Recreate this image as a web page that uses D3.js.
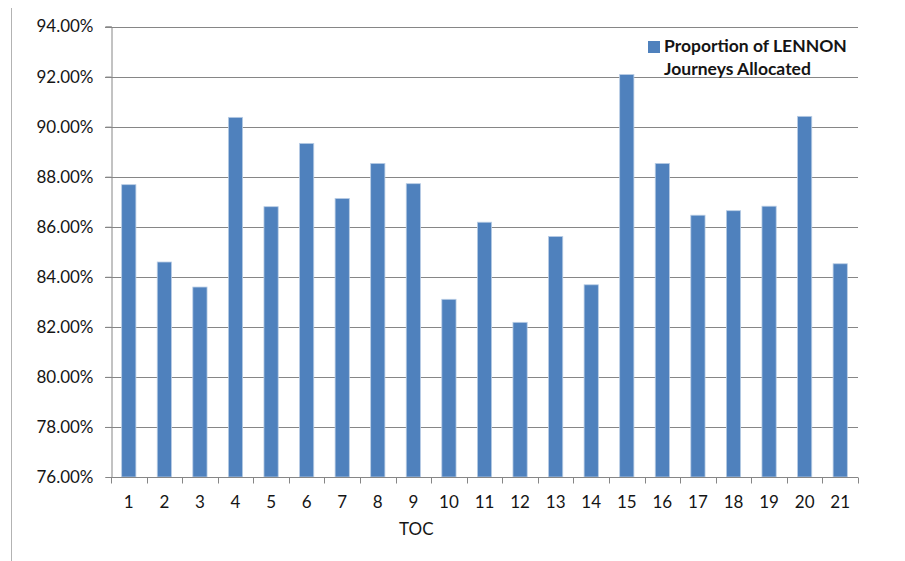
<!DOCTYPE html>
<html>
<head>
<meta charset="utf-8">
<script src="https://cdn.jsdelivr.net/npm/d3@7/dist/d3.min.js"></script>
<style>
  html, body { margin: 0; padding: 0; background: #fff; }
  svg { display: block; font-family: Lato, "Open Sans", sans-serif; }
</style>
</head>
<body>
<svg id="chart" width="905" height="561"></svg>
<script>
// TOC numbers along the category axis
const categories = ["1","2","3","4","5","6","7","8","9","10","11","12","13","14","15","16","17","18","19","20","21"];
// Share of LENNON journeys allocated, per TOC
const allocated = [0.8768, 0.8459, 0.8359, 0.9037, 0.8680, 0.8933, 0.8713, 0.8853, 0.8772, 0.8310,
                   0.8618, 0.8218, 0.8561, 0.8368, 0.9208, 0.8853, 0.8646, 0.8664, 0.8682, 0.9041, 0.8452];
// Value-axis ticks
const yTicks = [0.76, 0.78, 0.80, 0.82, 0.84, 0.86, 0.88, 0.90, 0.92, 0.94];
const seriesName = ["Proportion of LENNON", "Journeys Allocated"];
const axisTitle = "TOC";

const svg = d3.select("#chart");
const plot = { left: 111, right: 858, top: 26.5, bottom: 477 };
const barColor = "#4F81BD";
const lineColor = "#868686";
const textColor = "#151515";

const x = d3.scaleBand().domain(categories).range([plot.left, plot.right]).padding(0);
const y = d3.scaleLinear().domain([0.76, 0.94]).range([plot.bottom, plot.top]);

// chart-area border (left edge)
svg.append("line")
  .attr("x1", 11.5).attr("x2", 11.5).attr("y1", 8).attr("y2", 561)
  .attr("stroke", "#b3b3b3").attr("stroke-width", 1);

// horizontal gridlines with their left tick stubs
svg.append("g").selectAll("line").data(yTicks.slice(1)).join("line")
  .attr("x1", plot.left - 6).attr("x2", plot.right)
  .attr("y1", d => Math.round(y(d)) + 0.5).attr("y2", d => Math.round(y(d)) + 0.5)
  .attr("stroke", lineColor).attr("stroke-width", 1);

// bars
const barW = x.bandwidth() * 0.4;
svg.append("g").selectAll("rect").data(allocated).join("rect")
  .attr("x", (d, i) => x(categories[i]) + (x.bandwidth() - barW) / 2)
  .attr("y", d => y(d))
  .attr("width", barW)
  .attr("height", d => plot.bottom - y(d))
  .attr("fill", barColor)
  .attr("stroke", "#b9cde5").attr("stroke-width", 0.8);

// value axis
const yAxis = svg.append("g")
  .attr("transform", `translate(${plot.left + 0.5},0)`)
  .call(d3.axisLeft(y).tickValues(yTicks).tickFormat(d3.format(".2%")).tickSize(6).tickPadding(12));
yAxis.select(".domain").attr("stroke", lineColor);
yAxis.selectAll(".tick line").attr("stroke", lineColor);
yAxis.selectAll(".tick text")
  .attr("font-family", "Lato, sans-serif").attr("font-size", 17).attr("fill", textColor);

// category axis
const xAxis = svg.append("g")
  .attr("transform", `translate(0,${plot.bottom + 0.5})`)
  .call(d3.axisBottom(x).tickSize(0).tickPadding(18));
xAxis.select(".domain").attr("stroke", lineColor).attr("d", `M${plot.left},0H${plot.right}`);
xAxis.selectAll(".tick text")
  .attr("font-family", "Lato, sans-serif").attr("font-size", 17).attr("fill", textColor);
// boundary tick marks between categories
const bounds = categories.map(c => x(c)).concat([plot.right]);
xAxis.append("g").selectAll("line").data(bounds).join("line")
  .attr("x1", d => Math.round(d) + 0.5).attr("x2", d => Math.round(d) + 0.5)
  .attr("y1", 0).attr("y2", 6)
  .attr("stroke", lineColor);

// axis title
svg.append("text")
  .attr("x", x("9") + x.bandwidth() / 2 + 3)
  .attr("y", 535)
  .attr("text-anchor", "middle")
  .attr("font-size", 17).attr("fill", textColor)
  .text(axisTitle);

// legend
const legend = svg.append("g").attr("transform", "translate(648,40)");
legend.append("rect").attr("x", 0).attr("y", 1).attr("width", 12).attr("height", 12).attr("fill", barColor);
legend.selectAll("text").data(seriesName).join("text")
  .attr("x", 16).attr("y", (d, i) => 12 + i * 23)
  .attr("font-size", 17.5).attr("font-weight", "bold").attr("fill", textColor)
  .text(d => d);
</script>
</body>
</html>
